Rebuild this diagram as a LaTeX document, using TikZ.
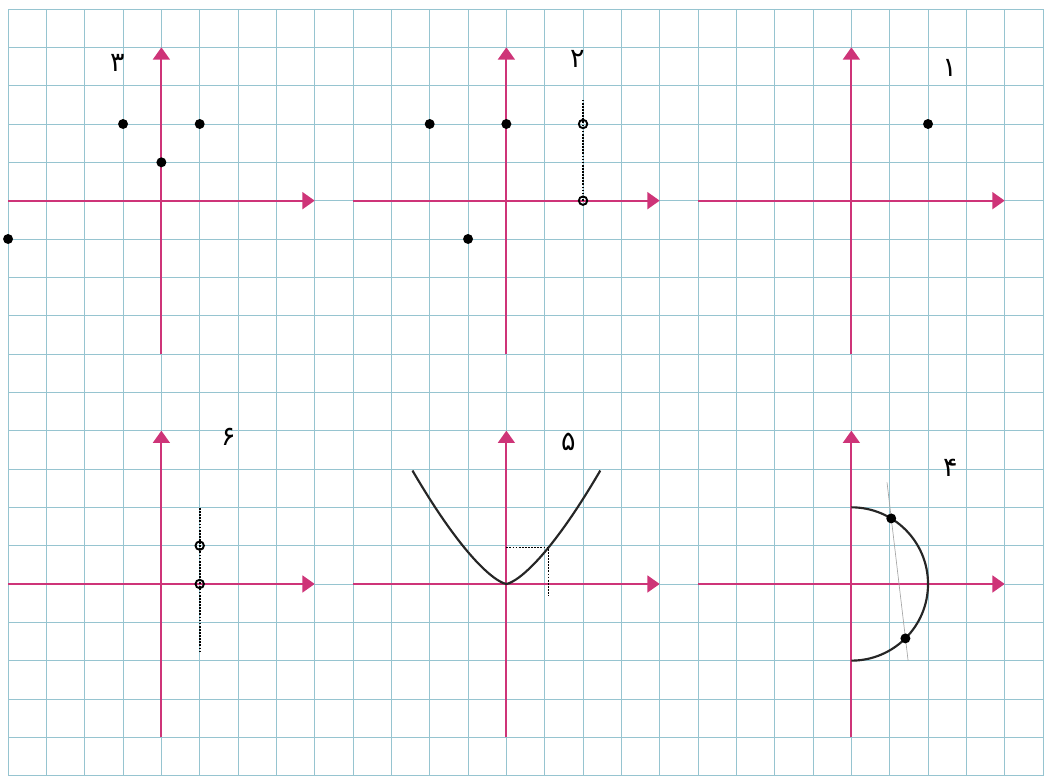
\documentclass[tikz,border=0pt]{standalone}
\usepackage{fontspec}
\newfontfamily\persianfont[Script=Arabic]{DejaVu Sans}
\usetikzlibrary{arrows.meta}
\definecolor{gridblue}{RGB}{150,196,208}
\definecolor{axispink}{RGB}{206,52,120}

\begin{document}
\begin{tikzpicture}[>={Triangle[length=0.32cm,width=0.44cm]},
  grid line/.style={draw=gridblue,line width=0.7pt},
  axis line/.style={->,draw=axispink,fill=axispink,line width=1.4pt},
  dot node/.style={circle,fill=black,inner sep=0pt,minimum size=0.26cm},
  open node/.style={circle,draw=black,line width=1.4pt,inner sep=0pt,minimum size=0.22cm},
  guide/.style={densely dotted,line width=1.3pt},
  graph line/.style={line width=1.6pt,draw=black!85},
  num node/.style={font=\persianfont\fontsize{20}{20}\selectfont}]

  \useasboundingbox (-0.21,-0.01) rectangle (27.13,20.235);
  \draw[grid line] (0,0) grid (27,20);

  % axes of the six panels
  \foreach \ox/\oy in {22/15,13/15,4/15,22/5,13/5,4/5} {
    \draw[axis line] (\ox-4,\oy) -- (\ox+4,\oy);
    \draw[axis line] (\ox,\oy-4) -- (\ox,\oy+4);
  }

  \node[num node] (n1) at (24.56,18.46) {۱};
  \node[num node] (n2) at (14.85,18.7) {۲};
  \node[num node] (n3) at (2.85,18.6) {۳};
  \node[num node] (n4) at (24.58,8.04) {۴};
  \node[num node] (n5) at (14.62,8.7) {۵};
  \node[num node] (n6) at (5.75,8.84) {۶};

  % panel 1
  \node[dot node] (a1) at (24,17) {};

  % panel 2
  \coordinate (b4) at (15,17);
  \coordinate (b5) at (15,15);
  \coordinate (btop) at (15,17.63);
  \draw[guide] (b5) -- (btop);
  \node[dot node] (b1) at (11,17) {};
  \node[dot node] (b2) at (13,17) {};
  \node[dot node] (b3) at (12,14) {};
  \node[open node] at (b4) {};
  \node[open node] at (b5) {};

  % panel 3
  \node[dot node] (c1) at (3,17) {};
  \node[dot node] (c2) at (5,17) {};
  \node[dot node] (c3) at (4,16) {};
  \node[dot node] (c4) at (0,14) {};

  % panel 4
  \draw[graph line] (22,7) arc[start angle=90,end angle=-90,radius=2];
  \coordinate (dtop) at (22.93,7.65);
  \coordinate (dbot) at (23.48,3.0);
  \draw[black!35,line width=0.5pt] (dtop) -- (dbot);
  \node[dot node] (d1) at (23.04,6.71) {};
  \node[dot node] (d2) at (23.41,3.58) {};

  % panel 5
  \draw[graph line,smooth,samples=61,domain=-2.45:2.45]
    plot ({13+\x},{5+0.832*pow(abs(\x),1.416)});
  \coordinate (e0) at (13,5.95);
  \coordinate (e1) at (14.1,5.95);
  \coordinate (e2) at (14.1,4.7);
  \draw[guide] (e0) -- (e1) -- (e2);

  % panel 6
  \coordinate (f1) at (5,6);
  \coordinate (f2) at (5,5);
  \coordinate (ftop) at (5,6.98);
  \coordinate (fbot) at (5,3.22);
  \draw[guide] (ftop) -- (fbot);
  \node[open node] at (f1) {};
  \node[open node] at (f2) {};

\end{tikzpicture}
\end{document}
